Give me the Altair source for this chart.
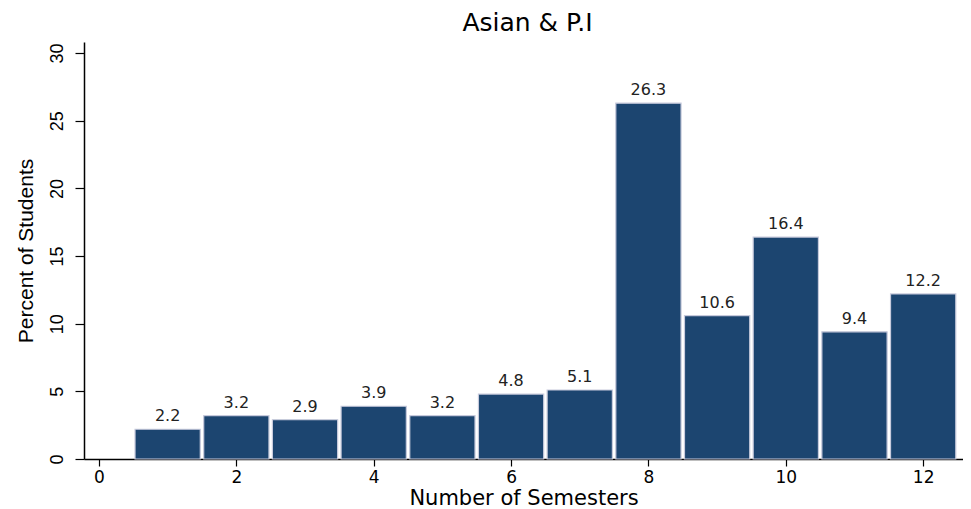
import altair as alt
import pandas as pd

semesters = [1, 2, 3, 4, 5, 6, 7, 8, 9, 10, 11, 12]
percents = [2.2, 3.2, 2.9, 3.9, 3.2, 4.8, 5.1, 26.3, 10.6, 16.4, 9.4, 12.2]
x_ticks = [0, 2, 4, 6, 8, 10, 12]
y_ticks = [0, 5, 10, 15, 20, 25, 30]

half = 0.475
df = pd.DataFrame({
    "sem": semesters,
    "pct": percents,
    "lo": [s - half for s in semesters],
    "hi": [s + half for s in semesters],
    "label": [f"{p:.1f}" for p in percents],
})

xscale = alt.Scale(domain=[-0.218, 12.58], nice=False, zero=False)
yscale = alt.Scale(domain=[0, 30.82], nice=False)

base = alt.Chart(df)

bars = base.mark_bar(color="#1c4570", stroke="#c7cadc", strokeWidth=1.2).encode(
    x=alt.X("lo:Q", scale=xscale,
            axis=alt.Axis(values=x_ticks, format="d", title="Number of Semesters", grid=False,
                          domainColor="black", domainWidth=1.5, tickColor="black",
                          tickSize=7, tickWidth=1.2, labelFont="DejaVu Sans",
                          labelFontSize=17, labelColor="black", labelPadding=3,
                          titleFont="DejaVu Sans", titleFontSize=21, titleFontWeight="normal",
                          titleColor="black", titleBaseline="alphabetic", titleY=45)),
    x2="hi:Q",
    y=alt.Y("pct:Q", scale=yscale,
            axis=alt.Axis(values=y_ticks, format="d", title="Percent of Students", grid=False,
                          domainColor="black", domainWidth=1.5, tickColor="black",
                          tickSize=9, tickWidth=1.2, labelFont="Liberation Sans",
                          labelFontSize=18, labelColor="black", labelAngle=270,
                          labelAlign="center", labelBaseline="alphabetic", labelPadding=13,
                          titleFont="Liberation Sans", titleFontSize=21,
                          titleFontWeight="normal", titleColor="black",
                          titleBaseline="alphabetic", titleX=-52)),
    y2=alt.datum(0),
)

text = base.mark_text(font="DejaVu Sans", fontSize=16, color="#222222",
                      baseline="alphabetic", dy=-8).encode(
    x=alt.X("sem:Q", scale=xscale),
    y=alt.Y("pct:Q", scale=yscale),
    text="label:N",
)

chart = (bars + text).properties(
    width=879, height=417,
    autosize=alt.AutoSizeParams(type="none"),
    padding={"left": 76, "top": 34, "right": 0, "bottom": 49},
    title=alt.TitleParams("Asian & P.I", font="DejaVu Sans", fontSize=25,
                          fontWeight="normal", color="black", offset=6, dx=4),
).configure(background="white").configure_view(stroke=None)

chart.save("out.html", embed_options={"renderer": "svg", "actions": False})
